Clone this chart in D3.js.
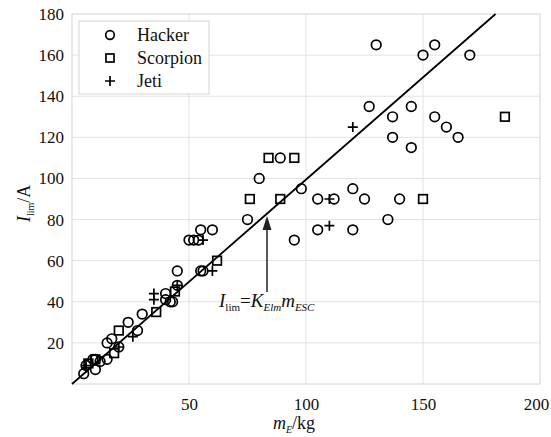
<!DOCTYPE html>
<html>
<head>
<meta charset="utf-8">
<script src="https://cdn.jsdelivr.net/npm/d3@7"></script>
<style>
  html, body { margin: 0; padding: 0; background: #fff; }
  svg { display: block; }
  svg text { font-family: "Liberation Serif", "DejaVu Serif", serif; }
</style>
</head>
<body>
<svg id="chart" width="551" height="437"></svg>
<script>
// Motor/ESC current limit versus mass, three manufacturers
const hacker = [
  [5,5],[6,9],[9,12],[10,12],[12,11],[10,7],[15,12],[15,20],[17,22],[20,18],
  [24,30],[28,26],[30,34],[40,41],[42,40],[43,40],[40,44],[45,48],[45,55],
  [50,70],[52,70],[54,70],[55,75],[60,75],[55,55],[56,55],[75,80],[80,100],
  [89,110],[98,95],[95,70],[105,75],[105,90],[112,90],[120,95],[125,90],
  [120,75],[135,80],[140,90],[127,135],[130,165],[137,130],[137,120],[145,135],
  [145,115],[150,160],[155,165],[155,130],[160,125],[165,120],[170,160]
];
const scorpion = [
  [7,10],[10,12],[18,15],[20,26],[36,35],[44,45],[62,60],[76,90],[84,110],
  [95,110],[89,90],[150,90],[185,130]
];
const jeti = [
  [6,9],[6,8],[20,18],[26,23],[35,44],[35,41],[45,48],[56,70],[60,55],
  [110,90],[110,77],[120,125]
];
// Fitted line I_lim = K_Elm * m_ESC, drawn between two end points
const fitLine = [[0,0],[181,180]];
const xTicks = [50,100,150,200];
const yTicks = [20,40,60,80,100,120,140,160,180];
const legendNames = ["Hacker","Scorpion","Jeti"];

const SERIF = "Liberation Serif";
const svg = d3.select("#chart");
const pL = 72, pR = 540, pT = 14, pB = 384;
const x = d3.scaleLinear().domain([0,200]).range([pL,pR]);
const y = d3.scaleLinear().domain([0,180]).range([pB,pT]);

// grid
const grid = svg.append("g");
grid.selectAll("line.v").data([50,100,150]).join("line").attr("class","v")
  .attr("x1", d => x(d)).attr("x2", d => x(d)).attr("y1", pT).attr("y2", pB)
  .attr("stroke", "#e2e2e2").attr("stroke-width", 1);
grid.selectAll("line.h").data([20,40,60,80,100,120,140,160]).join("line").attr("class","h")
  .attr("y1", d => y(d)).attr("y2", d => y(d)).attr("x1", pL).attr("x2", pR)
  .attr("stroke", "#e2e2e2").attr("stroke-width", 1);
svg.append("rect").attr("x", pL).attr("y", pT)
  .attr("width", pR-pL).attr("height", pB-pT)
  .attr("fill", "none").attr("stroke", "#d4d4d4").attr("stroke-width", 1);

// axes (labels only)
const xAxis = svg.append("g").attr("transform", `translate(0,${pB})`)
  .call(d3.axisBottom(x).tickValues(xTicks).tickSize(0).tickPadding(14));
const yAxis = svg.append("g").attr("transform", `translate(${pL},0)`)
  .call(d3.axisLeft(y).tickValues(yTicks).tickSize(0).tickPadding(8));
[xAxis, yAxis].forEach(a => {
  a.attr("font-family", SERIF).attr("font-size", 17);
  a.select(".domain").remove();
  a.selectAll("text").attr("fill", "#111");
});
xAxis.selectAll(".tick").filter(d => d === 200).select("text").attr("dx", -4);

// fit line
svg.append("path")
  .attr("d", d3.line().x(d => x(d[0])).y(d => y(d[1]))(fitLine))
  .attr("fill", "none").attr("stroke", "#000").attr("stroke-width", 1.8);

// markers
const mk = svg.append("g").attr("fill", "none").attr("stroke", "#000").attr("stroke-width", 1.7);
mk.selectAll("circle").data(hacker).join("circle")
  .attr("cx", d => x(d[0])).attr("cy", d => y(d[1])).attr("r", 4.8);
mk.selectAll("rect").data(scorpion).join("rect")
  .attr("x", d => x(d[0]) - 4.3).attr("y", d => y(d[1]) - 4.3)
  .attr("width", 8.6).attr("height", 8.6);
const plusPath = "M-5,0H5M0,-5V5";
mk.selectAll("path.plus").data(jeti).join("path").attr("class", "plus")
  .attr("transform", d => `translate(${x(d[0])},${y(d[1])})`)
  .attr("d", plusPath);

// legend
const lg = svg.append("g");
lg.append("rect").attr("x", 79).attr("y", 21).attr("width", 130).attr("height", 73)
  .attr("fill", "#fff").attr("stroke", "#d4d4d4").attr("stroke-width", 1);
legendNames.forEach((name, i) => {
  const cy = 35 + i * 23, cx = 110;
  const g = lg.append("g").attr("fill", "none").attr("stroke", "#000").attr("stroke-width", 1.7);
  if (i === 0) g.append("circle").attr("cx", cx).attr("cy", cy).attr("r", 4.3);
  if (i === 1) g.append("rect").attr("x", cx - 4).attr("y", cy - 4).attr("width", 8).attr("height", 8);
  if (i === 2) g.append("path").attr("transform", `translate(${cx},${cy})`).attr("d", plusPath);
  lg.append("text").attr("x", 137).attr("y", cy + 6)
    .attr("font-family", SERIF).attr("font-size", 18).attr("fill", "#111").text(name);
});

// axis titles
const xt = svg.append("text").attr("x", 273).attr("y", 429)
  .attr("font-family", SERIF).attr("font-size", 18).attr("fill", "#111");
xt.append("tspan").attr("font-style", "italic").text("m");
xt.append("tspan").attr("font-style", "italic").attr("font-size", 10).attr("dy", 4).text("E");
xt.append("tspan").attr("dy", -4).text("/kg");

const yt = svg.append("text").attr("transform", "translate(30,222) rotate(-90)")
  .attr("font-family", SERIF).attr("font-size", 18).attr("fill", "#111");
yt.append("tspan").attr("font-style", "italic").text("I");
yt.append("tspan").attr("font-size", 10).attr("dy", 4).text("lim");
yt.append("tspan").attr("dy", -4).text("/A");

// annotation arrow and formula
const ax = 267;
svg.append("line").attr("x1", ax).attr("x2", ax).attr("y1", 292).attr("y2", 228)
  .attr("stroke", "#222").attr("stroke-width", 1.5);
svg.append("path").attr("d", `M${ax},216L${ax-4.5},230L${ax+4.5},230Z`).attr("fill", "#222");

const ft = svg.append("text").attr("x", 219).attr("y", 307)
  .attr("font-family", SERIF).attr("font-size", 19).attr("fill", "#111");
ft.append("tspan").attr("font-style", "italic").text("I");
ft.append("tspan").attr("font-size", 11).attr("dy", 4).text("lim");
ft.append("tspan").attr("dy", -4).text("=");
ft.append("tspan").attr("font-style", "italic").text("K");
ft.append("tspan").attr("font-style", "italic").attr("font-size", 11).attr("dy", 4).text("Elm");
ft.append("tspan").attr("font-style", "italic").attr("dy", -4).text("m");
ft.append("tspan").attr("font-style", "italic").attr("font-size", 11).attr("dy", 4).text("ESC");
</script>
</body>
</html>
